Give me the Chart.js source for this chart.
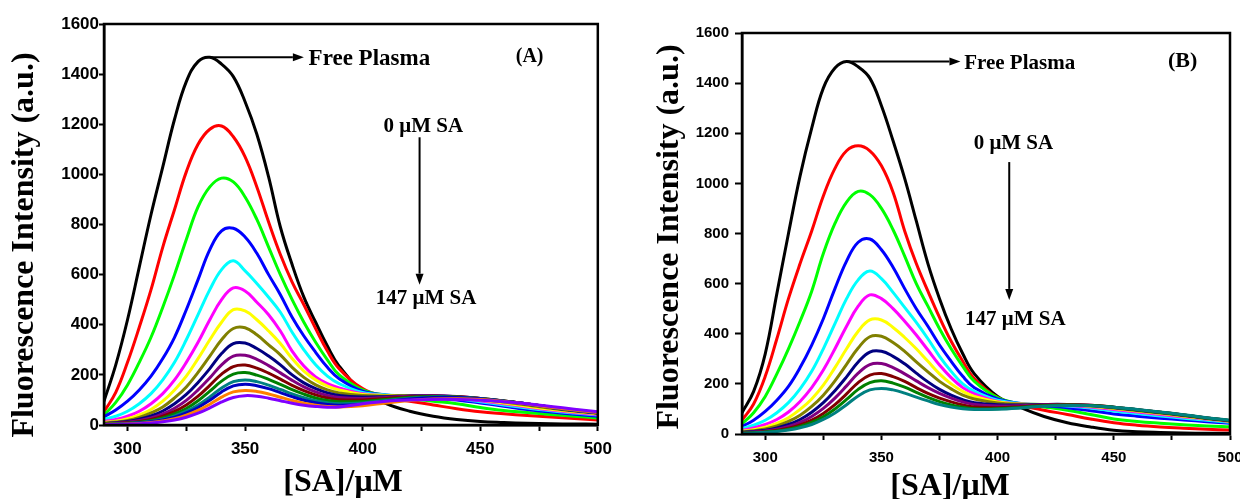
<!DOCTYPE html>
<html>
<head>
<meta charset="utf-8">
<script src="https://cdn.jsdelivr.net/npm/chart.js@4.4.1/dist/chart.umd.min.js"></script>
<style>
  html, body { margin: 0; padding: 0; background: #fff; overflow: hidden; }
  .panel { position: absolute; top: 0; }
  #boxA { left: 0; }
  #boxB { left: 620px; }
</style>
</head>
<body>
<div class="panel" id="boxA"><canvas id="chartA" width="620" height="499"></canvas></div>
<div class="panel" id="boxB"><canvas id="chartB" width="640" height="499"></canvas></div>
<script>
// Wavelength grid (nm) shared by every spectrum
const wavelengths = [290, 295, 300, 305, 310, 315, 320, 325, 330, 335, 340, 345, 350, 355, 360, 365, 370, 375, 380, 385, 390, 400, 410, 420, 430, 440, 450, 460, 470, 480, 490, 500];
const xTickValues = [300, 325, 350, 375, 400, 425, 450, 475, 500];
const xLabelValues = [300, 350, 400, 450, 500];
const yTickStep = 200;

// Panel (A) spectra: free plasma, then 0 -> 147 uM SA
const A_black   = [95, 240, 420, 630, 840, 1030, 1220, 1370, 1450, 1467, 1440, 1390, 1290, 1160, 990, 790, 640, 510, 410, 315, 235, 135, 85, 55, 35, 22, 14, 10, 7, 5, 4, 3];
const A_red     = [53, 130, 250, 390, 540, 710, 860, 1010, 1120, 1180, 1193, 1150, 1070, 950, 810, 680, 570, 480, 385, 295, 225, 145, 112, 95, 80, 65, 53, 45, 38, 32, 26, 20];
const A_lime    = [40, 90, 160, 250, 350, 470, 600, 740, 870, 950, 985, 970, 910, 820, 710, 600, 500, 410, 330, 260, 200, 140, 118, 105, 95, 85, 70, 58, 50, 42, 35, 28];
const A_blue    = [33, 60, 95, 140, 195, 265, 350, 460, 580, 700, 775, 785, 750, 685, 600, 520, 430, 355, 290, 230, 185, 135, 120, 112, 108, 100, 88, 75, 62, 52, 43, 35];
const A_cyan    = [23, 35, 55, 85, 125, 180, 250, 340, 440, 540, 620, 655, 615, 565, 510, 450, 370, 300, 240, 195, 165, 130, 120, 115, 112, 105, 93, 80, 68, 57, 48, 40];
const A_magenta = [14, 22, 35, 55, 85, 125, 180, 250, 330, 420, 500, 547, 535, 490, 440, 375, 295, 235, 192, 165, 148, 125, 118, 115, 113, 108, 97, 85, 72, 60, 50, 42];
const A_yellow  = [10, 15, 25, 40, 62, 95, 140, 195, 265, 340, 410, 460, 455, 420, 375, 325, 265, 215, 180, 155, 140, 122, 118, 117, 115, 110, 100, 88, 75, 63, 53, 45];
const A_olive   = [8, 12, 18, 30, 48, 72, 108, 152, 210, 275, 340, 385, 388, 360, 320, 280, 230, 190, 160, 140, 128, 118, 116, 117, 116, 112, 103, 92, 80, 67, 56, 47];
const A_navy    = [6, 9, 14, 23, 36, 56, 85, 122, 170, 225, 285, 325, 327, 305, 275, 240, 200, 168, 145, 128, 118, 112, 113, 116, 117, 113, 105, 95, 83, 70, 58, 48];
const A_purple  = [5, 7, 11, 18, 28, 44, 67, 98, 140, 188, 240, 275, 278, 262, 237, 208, 178, 152, 132, 118, 110, 106, 110, 115, 117, 114, 106, 96, 84, 71, 59, 49];
const A_maroon  = [4, 6, 9, 14, 22, 35, 54, 80, 115, 158, 203, 233, 239, 227, 207, 183, 158, 137, 120, 108, 101, 100, 106, 112, 115, 113, 106, 96, 84, 71, 59, 49];
const A_green   = [3, 5, 7, 11, 18, 28, 44, 66, 97, 135, 175, 203, 209, 199, 182, 162, 141, 123, 108, 98, 93, 94, 102, 110, 114, 112, 106, 96, 84, 71, 59, 49];
const A_teal    = [3, 4, 6, 9, 15, 23, 36, 55, 80, 112, 148, 173, 180, 173, 159, 142, 124, 109, 97, 89, 85, 88, 98, 107, 112, 111, 105, 95, 84, 71, 59, 48];
const A_royal   = [2, 3, 5, 8, 13, 20, 31, 48, 70, 99, 132, 156, 163, 157, 145, 129, 113, 99, 89, 82, 79, 83, 94, 104, 110, 110, 105, 95, 84, 71, 59, 48];
const A_orange  = [2, 3, 4, 6, 10, 16, 25, 39, 58, 83, 111, 132, 138, 134, 124, 111, 98, 87, 79, 74, 72, 77, 88, 98, 104, 105, 102, 94, 84, 71, 60, 50];
const A_violet  = [1, 2, 3, 5, 8, 13, 20, 31, 47, 68, 92, 110, 117, 115, 107, 97, 87, 79, 74, 71, 72, 85, 95, 100, 102, 102, 99, 93, 85, 74, 63, 53];

// Panel (B) spectra
const B_black   = [85, 170, 320, 560, 800, 1030, 1220, 1380, 1460, 1486, 1465, 1420, 1310, 1170, 1020, 850, 680, 540, 420, 320, 240, 150, 105, 70, 45, 28, 15, 9, 6, 4, 3, 3];
const B_red     = [55, 120, 230, 380, 540, 680, 810, 950, 1060, 1130, 1150, 1130, 1070, 965, 810, 680, 570, 465, 370, 290, 220, 145, 115, 95, 78, 60, 45, 35, 28, 23, 19, 16];
const B_lime    = [40, 85, 150, 240, 340, 450, 570, 720, 840, 925, 968, 955, 900, 815, 710, 600, 510, 420, 340, 270, 210, 145, 120, 108, 95, 78, 60, 50, 43, 37, 32, 29];
const B_blue    = [30, 55, 90, 135, 190, 265, 355, 460, 580, 690, 765, 778, 735, 665, 580, 500, 430, 355, 290, 230, 185, 140, 122, 113, 105, 93, 80, 71, 63, 56, 49, 43];
const B_cyan    = [22, 35, 55, 85, 125, 180, 250, 340, 440, 540, 615, 650, 620, 565, 505, 445, 380, 310, 250, 200, 170, 135, 122, 117, 112, 104, 92, 82, 72, 63, 55, 47];
const B_magenta = [15, 24, 38, 58, 88, 130, 185, 255, 340, 430, 510, 555, 540, 500, 450, 395, 335, 275, 225, 185, 160, 130, 120, 117, 114, 108, 98, 88, 78, 68, 59, 50];
const B_yellow  = [11, 17, 27, 42, 65, 98, 140, 195, 265, 340, 410, 455, 455, 425, 385, 340, 290, 240, 200, 170, 150, 128, 120, 118, 116, 111, 102, 92, 82, 71, 61, 51];
const B_olive   = [9, 13, 20, 32, 50, 75, 110, 155, 212, 278, 343, 388, 390, 365, 330, 288, 248, 210, 180, 155, 140, 124, 119, 118, 117, 113, 104, 94, 84, 73, 62, 52];
const B_navy    = [7, 10, 15, 24, 38, 58, 87, 125, 173, 228, 287, 327, 330, 310, 280, 243, 208, 178, 155, 137, 125, 117, 116, 118, 118, 114, 106, 96, 86, 75, 63, 53];
const B_purple  = [5, 8, 12, 19, 30, 46, 70, 102, 143, 192, 243, 277, 281, 265, 240, 212, 185, 162, 143, 128, 118, 112, 113, 117, 118, 115, 107, 97, 87, 76, 64, 53];
const B_maroon  = [4, 6, 9, 15, 23, 36, 55, 82, 117, 160, 205, 235, 241, 229, 210, 185, 162, 143, 128, 116, 108, 105, 109, 115, 117, 115, 107, 97, 87, 76, 64, 53];
const B_green   = [3, 5, 8, 12, 19, 30, 46, 69, 100, 138, 178, 205, 212, 203, 187, 166, 146, 129, 116, 107, 101, 101, 106, 113, 116, 114, 107, 97, 87, 76, 64, 54];
const B_teal    = [3, 4, 7, 10, 16, 25, 38, 58, 84, 117, 152, 176, 182, 176, 163, 147, 132, 118, 108, 101, 98, 99, 104, 111, 114, 113, 107, 98, 88, 77, 65, 55];

const lineColors = ["#000000", "#ff0000", "#00ff00", "#0000ff", "#00ffff", "#ff00ff", "#ffff00", "#808000",
                    "#000080", "#800080", "#800000", "#008000", "#008080", "#0000c0", "#ff8000", "#8000ff"];

const seriesA = [A_black, A_red, A_lime, A_blue, A_cyan, A_magenta, A_yellow, A_olive,
                 A_navy, A_purple, A_maroon, A_green, A_teal, A_royal, A_orange, A_violet];
const seriesB = [B_black, B_red, B_lime, B_blue, B_cyan, B_magenta, B_yellow, B_olive,
                 B_navy, B_purple, B_maroon, B_green, B_teal];

const serif = '"Liberation Serif", "Times New Roman", serif';
const sans = '"Liberation Sans", Arial, sans-serif';

function toPoints(values) {
  return values.map((v, i) => ({ x: wavelengths[i], y: v }));
}

function drawArrow(ctx, x1, y1, x2, y2) {
  const ang = Math.atan2(y2 - y1, x2 - x1);
  const head = 11, half = 4;
  ctx.beginPath();
  ctx.moveTo(x1, y1);
  ctx.lineTo(x2 - head * Math.cos(ang), y2 - head * Math.sin(ang));
  ctx.stroke();
  ctx.beginPath();
  ctx.moveTo(x2, y2);
  ctx.lineTo(x2 - head * Math.cos(ang) + half * Math.sin(ang), y2 - head * Math.sin(ang) - half * Math.cos(ang));
  ctx.lineTo(x2 - head * Math.cos(ang) - half * Math.sin(ang), y2 - head * Math.sin(ang) + half * Math.cos(ang));
  ctx.closePath();
  ctx.fill();
}

// Frame, arrows, notes and axis titles
function makeDecor(cfg) {
  return {
    id: "decor",
    afterDraw(chart) {
      const { ctx, chartArea: a, scales: { x, y } } = chart;
      ctx.save();
      ctx.strokeStyle = "#000";
      ctx.fillStyle = "#000";
      ctx.lineWidth = 2.5;
      ctx.strokeRect(a.left, a.top, a.right - a.left, a.bottom - a.top);

      ctx.lineWidth = 2;
      cfg.arrows.forEach(ar => {
        drawArrow(ctx, x.getPixelForValue(ar.x1), y.getPixelForValue(ar.y1),
                       x.getPixelForValue(ar.x2), y.getPixelForValue(ar.y2));
      });

      ctx.textBaseline = "middle";
      cfg.notes.forEach(n => {
        ctx.font = n.font;
        ctx.textAlign = n.align || "center";
        ctx.fillText(n.text, x.getPixelForValue(n.x), y.getPixelForValue(n.y));
      });

      ctx.font = "bold 32px " + serif;
      ctx.textAlign = "center";
      ctx.fillText("[SA]/\u03bcM", cfg.xTitle[0], cfg.xTitle[1]);
      ctx.translate(cfg.yTitle[0], cfg.yTitle[1]);
      ctx.rotate(-Math.PI / 2);
      ctx.fillText("Fluorescence Intensity (a.u.)", 0, 0);
      ctx.restore();
    }
  };
}

function makeChart(canvasId, series, lay, decor) {
  const n = series.length;
  const datasets = series.map((vals, i) => ({
    data: toPoints(vals),
    borderColor: lineColors[i],
    borderWidth: 3,
    pointRadius: 0,
    fill: false,
    tension: 0.4,
    order: n - i,
  }));

  return new Chart(document.getElementById(canvasId), {
    type: "line",
    data: { datasets },
    options: {
      responsive: false,
      animation: false,
      layout: { padding: { left: 0, top: lay.top, right: lay.right, bottom: 0 } },
      plugins: { legend: { display: false }, tooltip: { enabled: false } },
      scales: {
        x: {
          type: "linear",
          min: 290,
          max: 500,
          afterBuildTicks: s => { s.ticks = xTickValues.map(v => ({ value: v })); },
          afterFit: s => { s.height = lay.xHeight; },
          grid: { drawOnChartArea: false, tickLength: 6, tickWidth: 2, color: "#000" },
          border: { color: "#000", width: 2.5 },
          ticks: {
            color: "#000",
            padding: lay.xPad,
            maxRotation: 0,
            autoSkip: false,
            font: { family: sans, weight: "bold", size: lay.tickSize },
            callback: v => (xLabelValues.includes(v) ? String(v) : ""),
          },
        },
        y: {
          min: 0,
          max: 1600,
          afterFit: s => { s.width = lay.yWidth; },
          grid: { drawOnChartArea: false, tickLength: lay.yTick, tickWidth: 2, color: "#000" },
          border: { color: "#000", width: 2.5 },
          ticks: {
            stepSize: yTickStep,
            color: "#000",
            padding: lay.yPad,
            font: { family: sans, weight: "bold", size: lay.tickSize },
            callback: v => String(v),
          },
        },
      },
    },
    plugins: [makeDecor(decor)],
  });
}

const peakA = Math.max(...A_black);
const peakAx = wavelengths[A_black.indexOf(peakA)];
const peakB = Math.max(...B_black);
const peakBx = wavelengths[B_black.indexOf(peakB)];

makeChart("chartA", seriesA,
  { top: 24, right: 20, xHeight: 74, yWidth: 104, xPad: 8, yPad: 0, yTick: 5, tickSize: 17 },
  {
    arrows: [
      { x1: peakAx, y1: peakA, x2: 375, y2: peakA },
      { x1: 424.2, y1: 1148, x2: 424.2, y2: 560 },
    ],
    notes: [
      { text: "Free Plasma", x: 377, y: 1462, align: "left", font: "bold 23px " + serif },
      { text: "(A)", x: 471, y: 1470, font: "bold 20px " + serif },
      { text: "0 \u03bcM SA", x: 425.8, y: 1192, font: "bold 21px " + serif },
      { text: "147 \u03bcM SA", x: 427, y: 504, font: "bold 21px " + serif },
    ],
    xTitle: [343, 483],
    yTitle: [25, 245],
  });

makeChart("chartB", seriesB,
  { top: 33, right: 30, xHeight: 65, yWidth: 122, xPad: 9, yPad: 6, yTick: 7, tickSize: 15 },
  {
    arrows: [
      { x1: peakBx, y1: peakB, x2: 384, y2: peakB },
      { x1: 405, y1: 1085, x2: 405, y2: 535 },
    ],
    notes: [
      { text: "Free Plasma", x: 385.6, y: 1478, align: "left", font: "bold 21px " + serif },
      { text: "(B)", x: 479.6, y: 1488, font: "bold 22px " + serif },
      { text: "0 \u03bcM SA", x: 406.8, y: 1160, font: "bold 21px " + serif },
      { text: "147 \u03bcM SA", x: 407.6, y: 458, font: "bold 21px " + serif },
    ],
    xTitle: [330, 487],
    yTitle: [50, 237],
  });
</script>
</body>
</html>
